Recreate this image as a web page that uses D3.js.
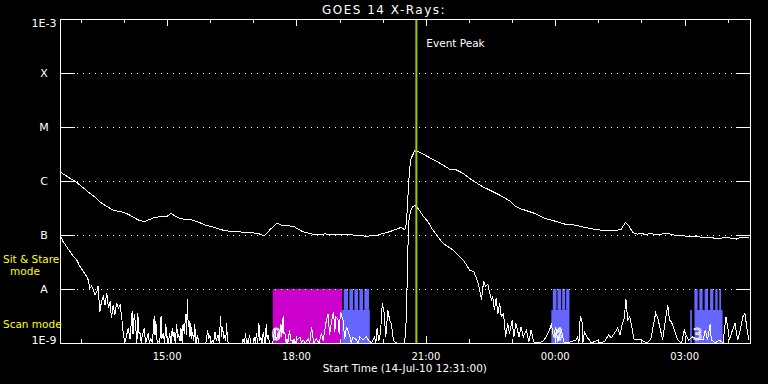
<!DOCTYPE html>
<html>
<head>
<meta charset="utf-8">
<script src="https://cdn.jsdelivr.net/npm/d3@7"></script>
<style>
  body { margin: 0; background: #000; }
  svg { display: block; background: #000; font-family: "DejaVu Sans", sans-serif; }
</style>
</head>
<body>
<svg width="768" height="384"></svg>
<script>
const title = "GOES 14 X-Rays:";
const xAxisLabel = "Start Time (14-Jul-10 12:31:00)";
const startHour = 12 + 31 / 60;
const endHour = startHour + 16;

const classLevels = [1e-9, 1e-8, 1e-7, 1e-6, 1e-5, 1e-4, 1e-3];
const classLabels = ["1E-9", "A", "B", "C", "M", "X", "1E-3"];
const tickHours = [15, 18, 21, 24, 27];
const tickLabels = ["15:00", "18:00", "21:00", "00:00", "03:00"];
const peakHour = 20.78;

// hours since 14-Jul 00:00, flux W/m^2
const longChannel = [
  [12.52, 1.47e-6], [12.63, 1.29e-6], [12.75, 1.12e-6], [12.86, 1.01e-6], [12.98, 8.4e-7],
  [13.10, 7.0e-7], [13.21, 5.9e-7], [13.33, 5.0e-7], [13.44, 4.1e-7], [13.56, 3.55e-7],
  [13.74, 2.9e-7], [13.95, 2.67e-7], [14.10, 2.42e-7], [14.25, 2.06e-7], [14.37, 1.84e-7],
  [14.49, 1.79e-7], [14.60, 1.95e-7], [14.72, 2.13e-7], [14.87, 2.18e-7], [15.00, 2.2e-7],
  [15.09, 2.52e-7], [15.18, 2.25e-7], [15.30, 2.0e-7], [15.40, 1.97e-7], [15.57, 1.9e-7],
  [15.72, 1.74e-7], [15.88, 1.53e-7], [16.03, 1.43e-7], [16.18, 1.31e-7], [16.34, 1.2e-7],
  [16.50, 1.17e-7], [16.65, 1.15e-7], [16.80, 1.12e-7], [16.96, 1.10e-7], [17.11, 1.07e-7],
  [17.25, 9.6e-8], [17.38, 1.24e-7], [17.54, 1.65e-7], [17.65, 1.53e-7], [17.80, 1.49e-7],
  [17.96, 1.43e-7], [18.00, 1.33e-7], [18.15, 1.15e-7], [18.31, 1.07e-7], [18.42, 1.02e-7],
  [18.54, 1.0e-7], [18.65, 1.05e-7], [18.77, 1.03e-7], [18.88, 1.0e-7], [19.00, 1.04e-7],
  [19.11, 1.01e-7], [19.23, 1.04e-7], [19.35, 9.8e-8], [19.47, 1.0e-7], [19.62, 9.3e-8],
  [19.72, 9.8e-8], [19.85, 9.6e-8], [19.93, 1.02e-7], [20.01, 1.07e-7], [20.16, 1.15e-7],
  [20.32, 1.28e-7], [20.43, 1.39e-7], [20.51, 1.24e-7], [20.55, 1.65e-7], [20.58, 4.45e-7],
  [20.62, 1.6e-6], [20.66, 2.63e-6], [20.74, 3.6e-6], [20.82, 3.5e-6], [20.93, 3.16e-6],
  [21.16, 2.52e-6], [21.40, 1.98e-6], [21.55, 1.65e-6], [21.71, 1.6e-6], [21.86, 1.39e-6],
  [22.01, 1.12e-6], [22.17, 9.3e-7], [22.32, 7.8e-7], [22.48, 6.8e-7], [22.71, 5.5e-7],
  [22.94, 4.3e-7], [23.06, 3.5e-7], [23.17, 3.1e-7], [23.29, 2.9e-7], [23.52, 2.52e-7],
  [23.75, 2.04e-7], [23.98, 1.82e-7], [24.21, 1.6e-7], [24.45, 1.53e-7], [24.68, 1.39e-7],
  [24.91, 1.28e-7], [25.14, 1.2e-7], [25.37, 1.19e-7], [25.53, 1.28e-7], [25.63, 1.72e-7],
  [25.72, 1.43e-7], [25.80, 1.1e-7], [25.90, 1.04e-7], [25.99, 1.07e-7], [26.10, 1.02e-7],
  [26.22, 1.07e-7], [26.33, 1.01e-7], [26.45, 1.04e-7], [26.57, 1.06e-7], [26.69, 1.04e-7],
  [26.80, 9.8e-8], [26.92, 9.9e-8], [27.03, 9.5e-8], [27.15, 9.3e-8], [27.27, 9.6e-8],
  [27.38, 9.1e-8], [27.50, 8.8e-8], [27.61, 9.1e-8], [27.73, 8.5e-8], [27.85, 8.7e-8],
  [27.96, 9.2e-8], [28.08, 8.7e-8], [28.20, 8.4e-8], [28.31, 9.1e-8], [28.42, 8.9e-8],
  [28.50, 9.1e-8]
];

const shortChannel = [
  [12.52, 1.0e-7], [12.54, 9.3e-8], [12.59, 7.5e-8], [12.67, 6.1e-8], [12.75, 4.9e-8],
  [12.83, 4.0e-8], [12.90, 3.5e-8], [12.98, 2.6e-8], [13.06, 2.1e-8], [13.14, 1.69e-8],
  [13.17, 1.47e-8], [13.21, 1.03e-8], [13.25, 1.13e-8], [13.29, 9.8e-9], [13.33, 7.7e-9],
  [13.37, 9.0e-9], [13.40, 1.13e-8], [13.44, 3.8e-9], [13.48, 5.9e-9], [13.52, 7.3e-9],
  [13.56, 5.1e-9], [13.60, 8.5e-9], [13.64, 4.4e-9], [13.68, 5.9e-9], [13.71, 2.85e-9],
  [13.75, 5.1e-9], [13.79, 3.3e-9], [13.83, 5.5e-9], [13.87, 4.4e-9], [13.91, 5.1e-9],
  [13.95, 2.85e-9], [13.98, 1.62e-9], [14.02, 1e-9], [14.10, 1.9e-9], [14.14, 1.2e-9],
  [14.19, 3.9e-9], [14.21, 1.5e-9], [14.24, 3.5e-9], [14.27, 2.1e-9], [14.30, 1e-9],
  [14.32, 3.6e-9], [14.35, 1.5e-9], [14.37, 1.6e-9], [14.40, 1e-9], [14.42, 1.3e-9],
  [14.47, 1.9e-9], [14.50, 1e-9], [14.52, 1.1e-9], [14.56, 1.5e-9], [14.59, 1e-9],
  [14.62, 1.2e-9], [14.66, 1e-9], [14.70, 3.1e-9], [14.72, 1.4e-9], [14.74, 2.5e-9],
  [14.77, 1e-9], [14.79, 1.1e-9], [14.83, 1e-9], [14.86, 3.1e-9], [14.88, 1.2e-9],
  [14.91, 1.5e-9], [14.94, 1e-9], [14.97, 2.2e-9], [15.00, 1.2e-9], [15.03, 1e-9],
  [15.06, 1.5e-9], [15.09, 1e-9], [15.12, 1.9e-9], [15.14, 1.3e-9], [15.16, 1.6e-9],
  [15.19, 1e-9], [15.22, 2.2e-9], [15.25, 1.3e-9], [15.27, 1.4e-9], [15.30, 1.1e-9],
  [15.32, 1.9e-9], [15.35, 1e-9], [15.37, 2.2e-9], [15.40, 1.5e-9], [15.43, 3.5e-9],
  [15.45, 1.4e-9], [15.47, 6.5e-9], [15.49, 2.0e-9], [15.51, 2.5e-9], [15.53, 1.3e-9],
  [15.55, 2.3e-9], [15.57, 1.2e-9], [15.59, 1.6e-9], [15.62, 1.1e-9], [15.64, 2.2e-9],
  [15.67, 1e-9], [15.70, 1.4e-9], [15.74, 1e-9], [15.90, 1e-9], [15.94, 1.7e-9],
  [15.97, 1.2e-9], [15.99, 1.4e-9], [16.02, 1e-9], [16.05, 1.1e-9], [16.08, 1e-9],
  [16.11, 1.6e-9], [16.14, 1.1e-9], [16.18, 1.4e-9], [16.21, 1e-9], [16.24, 3.2e-9],
  [16.26, 1.3e-9], [16.29, 2.0e-9], [16.31, 1.2e-9], [16.34, 1.4e-9], [16.36, 1.1e-9],
  [16.38, 2.3e-9], [16.40, 1.1e-9], [16.42, 1e-9], [16.74, 1e-9], [16.76, 1.2e-9],
  [16.79, 1e-9], [16.82, 1.5e-9], [16.84, 1e-9], [16.86, 1.1e-9], [16.88, 1e-9],
  [16.91, 1.4e-9], [16.94, 1e-9], [17.00, 1e-9], [17.02, 1.3e-9], [17.05, 1e-9],
  [17.07, 1.5e-9], [17.10, 1e-9], [17.13, 2.3e-9], [17.15, 1.1e-9], [17.17, 1.3e-9],
  [17.20, 1e-9], [17.23, 1.6e-9], [17.27, 1e-9], [17.30, 2.2e-9], [17.32, 1.2e-9],
  [17.34, 1.4e-9], [17.38, 1e-9], [17.45, 1e-9], [17.50, 1.9e-9], [17.53, 1.1e-9],
  [17.57, 1.5e-9], [17.60, 1.2e-9], [17.64, 2.2e-9], [17.66, 1.3e-9], [17.69, 3.1e-9],
  [17.71, 1.5e-9], [17.73, 1.6e-9], [17.76, 1e-9], [17.78, 1.2e-9], [17.80, 1e-9],
  [17.84, 1.7e-9], [17.87, 1.1e-9], [17.90, 1.1e-9], [17.92, 1e-9], [17.94, 1.2e-9],
  [17.96, 1e-9], [18.08, 1.3e-9], [18.12, 1e-9], [18.15, 1.14e-9], [18.21, 1e-9],
  [18.27, 1.2e-9], [18.31, 1e-9], [18.35, 2.0e-9], [18.40, 1e-9], [18.46, 1.2e-9],
  [18.52, 1e-9], [18.58, 1.5e-9], [18.62, 1.1e-9], [18.68, 2.3e-9], [18.73, 3.5e-9],
  [18.77, 1.4e-9], [18.81, 2.5e-9], [18.86, 3.8e-9], [18.89, 1.6e-9], [18.91, 3.05e-9],
  [18.96, 2.85e-9], [18.99, 1.5e-9], [19.02, 3.8e-9], [19.08, 2.65e-9], [19.12, 1.2e-9],
  [19.16, 2.0e-9], [19.23, 1.4e-9], [19.27, 1e-9], [19.31, 1.3e-9], [19.39, 1.14e-9],
  [19.43, 1e-9], [19.47, 1.3e-9], [19.54, 1.14e-9], [19.62, 1.3e-9], [19.68, 1.1e-9],
  [19.74, 1e-9], [19.81, 1.3e-9], [19.84, 1e-9], [19.87, 1.9e-9], [19.91, 1.1e-9],
  [19.95, 1.6e-9], [19.99, 5.5e-9], [20.03, 3.8e-9], [20.07, 1.3e-9], [20.12, 4.1e-9],
  [20.16, 2.65e-9], [20.20, 2.3e-9], [20.25, 1.1e-9], [20.32, 1e-9], [20.47, 1e-9],
  [20.51, 1e-9], [20.55, 3.05e-9], [20.57, 1.97e-8], [20.60, 1.7e-7], [20.64, 2.7e-7],
  [20.69, 3.3e-7], [20.74, 3.55e-7], [20.82, 3.1e-7], [20.93, 2.3e-7], [21.05, 1.75e-7],
  [21.16, 1.24e-7], [21.28, 9.3e-8], [21.40, 7.0e-8], [21.51, 6.1e-8], [21.63, 5.3e-8],
  [21.74, 4.3e-8], [21.86, 3.5e-8], [21.94, 2.8e-8], [22.01, 2.25e-8], [22.11, 2.1e-8],
  [22.17, 1.6e-8], [22.23, 1.13e-8], [22.29, 6.3e-9], [22.34, 1.4e-8], [22.38, 1.13e-8],
  [22.44, 1.21e-8], [22.48, 8.5e-9], [22.52, 6.3e-9], [22.55, 7.3e-9], [22.59, 4.1e-9],
  [22.63, 6.8e-9], [22.67, 3.5e-9], [22.71, 5.5e-9], [22.75, 3.05e-9], [22.80, 3.5e-9],
  [22.85, 1.3e-9], [22.90, 2.3e-9], [22.94, 1.5e-9], [23.00, 2.65e-9], [23.04, 1.3e-9],
  [23.09, 2.3e-9], [23.16, 1.3e-9], [23.21, 2.0e-9], [23.26, 1.3e-9], [23.33, 1.74e-9],
  [23.39, 1.06e-9], [23.44, 1.74e-9], [23.50, 1.06e-9], [23.56, 1e-9], [23.71, 1.06e-9],
  [23.79, 1.3e-9], [23.87, 1.74e-9], [23.91, 2.3e-9], [23.96, 1.3e-9], [24.01, 2.0e-9],
  [24.06, 1.06e-9], [24.14, 1.74e-9], [24.21, 1e-9], [24.38, 1.06e-9], [24.49, 1.14e-9],
  [24.52, 1.3e-9], [24.55, 1e-9], [24.58, 3.1e-9], [24.62, 2.65e-9], [24.64, 1e-9],
  [24.68, 1.6e-9], [24.73, 1.3e-9], [24.79, 1.14e-9], [24.84, 1e-9], [24.99, 1.14e-9],
  [25.03, 1e-9], [25.14, 1.06e-9], [25.24, 1.4e-9], [25.30, 1.25e-9], [25.37, 1.5e-9],
  [25.45, 1.9e-9], [25.50, 1.4e-9], [25.55, 2.15e-9], [25.60, 2.85e-9], [25.64, 6.5e-9],
  [25.68, 2.65e-9], [25.73, 3.05e-9], [25.78, 1.9e-9], [25.83, 1.14e-9], [25.99, 1.14e-9],
  [26.13, 1e-9], [26.22, 1.2e-9], [26.27, 2.0e-9], [26.33, 3.6e-9], [26.38, 2.85e-9],
  [26.43, 1.9e-9], [26.49, 1.14e-9], [26.55, 2.5e-9], [26.61, 5.0e-9], [26.65, 2.65e-9],
  [26.69, 2.5e-9], [26.74, 2.0e-9], [26.79, 1.5e-9], [26.84, 1.14e-9], [26.93, 1e-9],
  [26.99, 1.74e-9], [27.03, 1.4e-9], [27.09, 1.14e-9], [27.19, 1.3e-9], [27.34, 1.14e-9],
  [27.43, 1.14e-9], [27.48, 1.74e-9], [27.53, 1.14e-9], [27.59, 2.2e-9], [27.62, 1.14e-9],
  [27.71, 1e-9], [27.80, 1.14e-9], [27.89, 1e-9], [27.96, 3.05e-9], [28.00, 2.0e-9],
  [28.04, 1.14e-9], [28.11, 1.74e-9], [28.17, 2.3e-9], [28.23, 1.14e-9], [28.29, 1.74e-9],
  [28.35, 3.05e-9], [28.40, 3.5e-9], [28.44, 2.0e-9], [28.49, 1.14e-9]
];

// observing mode intervals (hours)
const sitStare = [[17.45, 19.06]];
const scanLower = [[19.05, 19.70], [23.91, 24.33], [27.13, 27.17], [27.23, 27.88]];
const scanUpper = [
  [19.095, 19.195], [19.227, 19.311], [19.343, 19.427], [19.459, 19.542], [19.575, 19.681],
  [23.944, 24.030], [24.053, 24.138], [24.161, 24.231], [24.254, 24.330],
  [27.226, 27.302], [27.342, 27.418], [27.465, 27.543], [27.590, 27.666], [27.712, 27.765], [27.805, 27.844]
];
const bandTop = 1e-8;
const bandMid = 4.1e-9;
const bandBottom = 1e-9;

const flareMarks = [[17.53, "0"], [24.07, "4"], [27.30, "3"]];

const svg = d3.select("svg");
const margin = { top: 19, right: 18, bottom: 41, left: 60 };
const width = +svg.attr("width");
const height = +svg.attr("height");
const innerWidth = width - margin.left - margin.right;
const innerHeight = height - margin.top - margin.bottom;

const xScale = d3.scaleLinear().domain([startHour, endHour]).range([0, innerWidth]);
const yScale = d3.scaleLog().domain([1e-9, 1e-3]).range([innerHeight, 0]).clamp(true);

const g = svg.append("g").attr("transform", `translate(${margin.left}, ${margin.top})`);

// mode bands
const bands = g.append("g");
bands.selectAll("rect.stare").data(sitStare).enter().append("rect")
  .attr("x", (d) => xScale(d[0]))
  .attr("width", (d) => xScale(d[1]) - xScale(d[0]))
  .attr("y", yScale(bandTop))
  .attr("height", yScale(bandBottom) - yScale(bandTop))
  .attr("fill", "#cc00cc");
bands.selectAll("rect.lower").data(scanLower).enter().append("rect")
  .attr("x", (d) => xScale(d[0]))
  .attr("width", (d) => xScale(d[1]) - xScale(d[0]))
  .attr("y", yScale(bandMid))
  .attr("height", yScale(bandBottom) - yScale(bandMid))
  .attr("fill", "#6666ff");
bands.selectAll("rect.upper").data(scanUpper).enter().append("rect")
  .attr("x", (d) => xScale(d[0]))
  .attr("width", (d) => xScale(d[1]) - xScale(d[0]))
  .attr("y", yScale(bandTop))
  .attr("height", yScale(bandMid) - yScale(bandTop))
  .attr("fill", "#6666ff");

// grid + y ticks
const grid = g.append("g").attr("shape-rendering", "crispEdges");
const levels = classLevels.slice(1, -1);
grid.selectAll("line.dot").data(levels).enter().append("line")
  .attr("x1", 17).attr("x2", innerWidth - 15)
  .attr("y1", (d) => Math.round(yScale(d)) + 0.5).attr("y2", (d) => Math.round(yScale(d)) + 0.5)
  .attr("stroke", "#fff").attr("stroke-dasharray", "1 5");
grid.selectAll("line.tl").data(levels).enter().append("line")
  .attr("x1", 0).attr("x2", 15)
  .attr("y1", (d) => Math.round(yScale(d)) + 0.5).attr("y2", (d) => Math.round(yScale(d)) + 0.5)
  .attr("stroke", "#fff");
grid.selectAll("line.tr").data(levels).enter().append("line")
  .attr("x1", innerWidth - 14).attr("x2", innerWidth)
  .attr("y1", (d) => Math.round(yScale(d)) + 0.5).attr("y2", (d) => Math.round(yScale(d)) + 0.5)
  .attr("stroke", "#fff");

// curves
const line = d3.line()
  .x((d) => xScale(d[0]))
  .y((d) => yScale(d[1]));

g.append("path").datum(longChannel)
  .attr("d", line).attr("fill", "none").attr("stroke", "#fff").attr("stroke-width", 1)
  .attr("shape-rendering", "crispEdges");
g.append("path").datum(shortChannel)
  .attr("d", line).attr("fill", "none").attr("stroke", "#fff").attr("stroke-width", 1)
  .attr("shape-rendering", "crispEdges");

// flare marks
g.selectAll("text.mark").data(flareMarks).enter().append("text")
  .attr("x", (d) => xScale(d[0]))
  .attr("y", innerHeight - 3)
  .attr("text-anchor", "middle")
  .attr("font-size", 15)
  .attr("fill", "none")
  .attr("stroke", "#fff")
  .attr("stroke-width", 0.8)
  .text((d) => d[1]);

// event peak
g.append("line")
  .attr("x1", xScale(peakHour)).attr("x2", xScale(peakHour))
  .attr("y1", 0).attr("y2", innerHeight)
  .attr("stroke", "#99cc00").attr("stroke-width", 2);
g.append("text")
  .attr("x", xScale(peakHour) + 10).attr("y", 28)
  .attr("fill", "#fff").attr("font-size", 10.5)
  .text("Event Peak");

// frame and x ticks
const frame = g.append("g").attr("shape-rendering", "crispEdges");
frame.append("rect")
  .attr("x", 0.5).attr("y", 0.5)
  .attr("width", innerWidth).attr("height", innerHeight)
  .attr("fill", "none").attr("stroke", "#fff");

const hours = d3.range(13, 29);
frame.selectAll("line.tt").data(hours).enter().append("line")
  .attr("x1", (d) => Math.round(xScale(d)) + 0.5).attr("x2", (d) => Math.round(xScale(d)) + 0.5)
  .attr("y1", 0).attr("y2", (d) => (d % 3 === 0 ? 7 : 4))
  .attr("stroke", "#fff");
frame.selectAll("line.tb").data(hours).enter().append("line")
  .attr("x1", (d) => Math.round(xScale(d)) + 0.5).attr("x2", (d) => Math.round(xScale(d)) + 0.5)
  .attr("y1", innerHeight).attr("y2", (d) => innerHeight - (d % 3 === 0 ? 7 : 4))
  .attr("stroke", "#fff");

g.selectAll("text.xt").data(tickHours).enter().append("text")
  .attr("x", (d) => xScale(d))
  .attr("y", innerHeight + 17)
  .attr("text-anchor", "middle")
  .attr("fill", "#fff").attr("font-size", 10)
  .text((d, i) => tickLabels[i]);

g.append("text")
  .attr("x", xScale(21) - 21).attr("y", innerHeight + 29)
  .attr("text-anchor", "middle")
  .attr("fill", "#fff").attr("font-size", 10.5)
  .text(xAxisLabel);

// y labels
g.selectAll("text.yl").data(classLevels).enter().append("text")
  .attr("x", -16)
  .attr("y", (d) => Math.min(Math.max(yScale(d) + 4, 8), innerHeight + 1))
  .attr("text-anchor", "middle")
  .attr("fill", "#fff").attr("font-size", 11)
  .text((d, i) => classLabels[i]);

// title
svg.append("text")
  .attr("x", width / 2).attr("y", 14)
  .attr("text-anchor", "middle")
  .attr("fill", "#fff").attr("font-size", 12)
  .attr("letter-spacing", 1.5)
  .text(title);

// mode labels
svg.append("text").attr("x", 3).attr("y", 263)
  .attr("fill", "#ffff00").attr("font-size", 10.5).text("Sit & Stare");
svg.append("text").attr("x", 25).attr("y", 275)
  .attr("text-anchor", "middle")
  .attr("fill", "#ffff00").attr("font-size", 10.5).text("mode");
svg.append("text").attr("x", 3).attr("y", 328)
  .attr("fill", "#ffff00").attr("font-size", 10.5).text("Scan mode");
</script>
</body>
</html>
